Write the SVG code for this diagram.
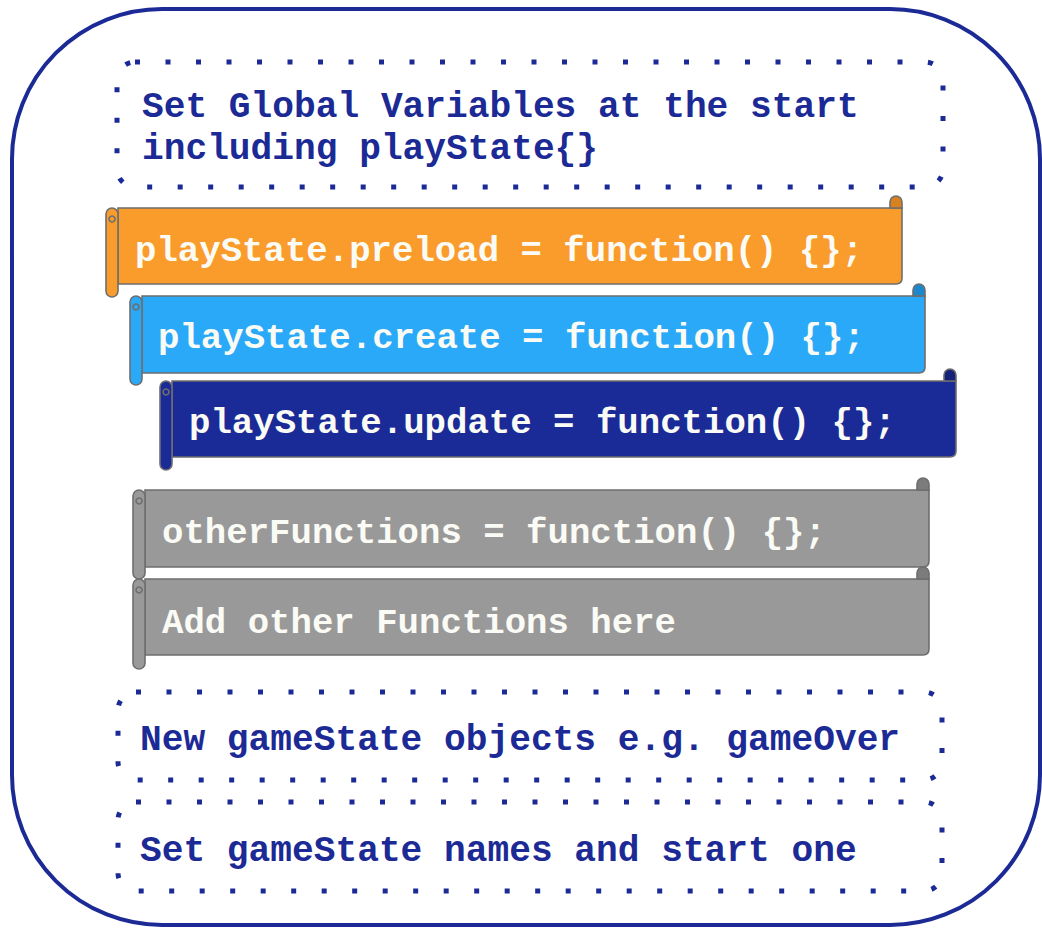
<svg xmlns="http://www.w3.org/2000/svg" width="1042" height="928" viewBox="0 0 1042 928">
<style>
.frame{fill:none;stroke:#1c2a96;stroke-width:4}
.dots{fill:none;stroke:#1c2a96;stroke-width:5;stroke-dasharray:5 25.5}
.dtext{font-family:"Liberation Mono","Courier New",monospace;font-weight:bold;font-size:36.2px;fill:#1c2a96}
.stext{font-family:"Liberation Mono","Courier New",monospace;font-weight:bold;font-size:35.7px;fill:#fbfbf6}
.edge{stroke:#6e6e6e;stroke-width:1.6}
.orange{fill:#fa9c2b}.orangeD{fill:#d9801f}
.lblue{fill:#29a9f8}.lblueD{fill:#1c88cc}
.dblue{fill:#1a2b98}.dblueD{fill:#142277}
.gray{fill:#999999}.grayD{fill:#7c7c7c}
</style>
<rect id="frame" class="frame" x="12" y="9" width="1028" height="916" rx="150" ry="150"/>

<g id="globals">
<rect class="dots" x="117" y="62" width="826" height="125" rx="18"/>
<text class="dtext" x="142" y="117">Set Global Variables at the start</text>
<text class="dtext" x="142" y="159">including playState{}</text>
</g>

<g id="preload">
<path class="orange edge" d="M118,208 H902 V278 Q902,284 896,284 H118 Z"/>
<rect class="orange edge" x="106" y="208" width="12" height="89" rx="6"/>
<path class="orangeD edge" d="M890,208 V202 A6,6 0 0 1 902,202 V208 Z"/>
<path fill="none" class="edge" d="M112,222 a3,3 0 1 1 0.1,0"/>
<text class="stext" x="135" y="261">playState.preload = function() {};</text>
</g>

<g id="create">
<path class="lblue edge" d="M142,296 H925 V367 Q925,373 919,373 H142 Z"/>
<rect class="lblue edge" x="130" y="296" width="12" height="89" rx="6"/>
<path class="lblueD edge" d="M913,296 V290 A6,6 0 0 1 925,290 V296 Z"/>
<path fill="none" class="edge" d="M136,310 a3,3 0 1 1 0.1,0"/>
<text class="stext" x="158" y="348">playState.create = function() {};</text>
</g>

<g id="update">
<path class="dblue edge" d="M172,381 H956 V451 Q956,457 950,457 H172 Z"/>
<rect class="dblue edge" x="160" y="381" width="12" height="89" rx="6"/>
<path class="dblueD edge" d="M944,381 V375 A6,6 0 0 1 956,375 V381 Z"/>
<path fill="none" class="edge" d="M166,395 a3,3 0 1 1 0.1,0"/>
<text class="stext" x="189" y="433">playState.update = function() {};</text>
</g>

<g id="otherFunctions">
<path class="gray edge" d="M145,490 H929 V561 Q929,567 923,567 H145 Z"/>
<rect class="gray edge" x="133" y="490" width="12" height="89" rx="6"/>
<path class="grayD edge" d="M917,490 V484 A6,6 0 0 1 929,484 V490 Z"/>
<path fill="none" class="edge" d="M139,504 a3,3 0 1 1 0.1,0"/>
<text class="stext" x="162" y="543">otherFunctions = function() {};</text>
</g>

<g id="addFunctions">
<path class="gray edge" d="M145,579 H929 V649 Q929,655 923,655 H145 Z"/>
<rect class="gray edge" x="133" y="579" width="12" height="90" rx="6"/>
<path class="grayD edge" d="M917,579 V573 A6,6 0 0 1 929,573 V579 Z"/>
<path fill="none" class="edge" d="M139,593 a3,3 0 1 1 0.1,0"/>
<text class="stext" x="162" y="633">Add other Functions here</text>
</g>

<g id="newStates">
<rect class="dots" x="118" y="692" width="824" height="88" rx="18"/>
<text class="dtext" x="140" y="750">New gameState objects e.g. gameOver</text>
</g>

<g id="startState">
<rect class="dots" x="118" y="802" width="824" height="89" rx="18"/>
<text class="dtext" x="140" y="861">Set gameState names and start one</text>
</g>

<g id="connectors"/>
</svg>
